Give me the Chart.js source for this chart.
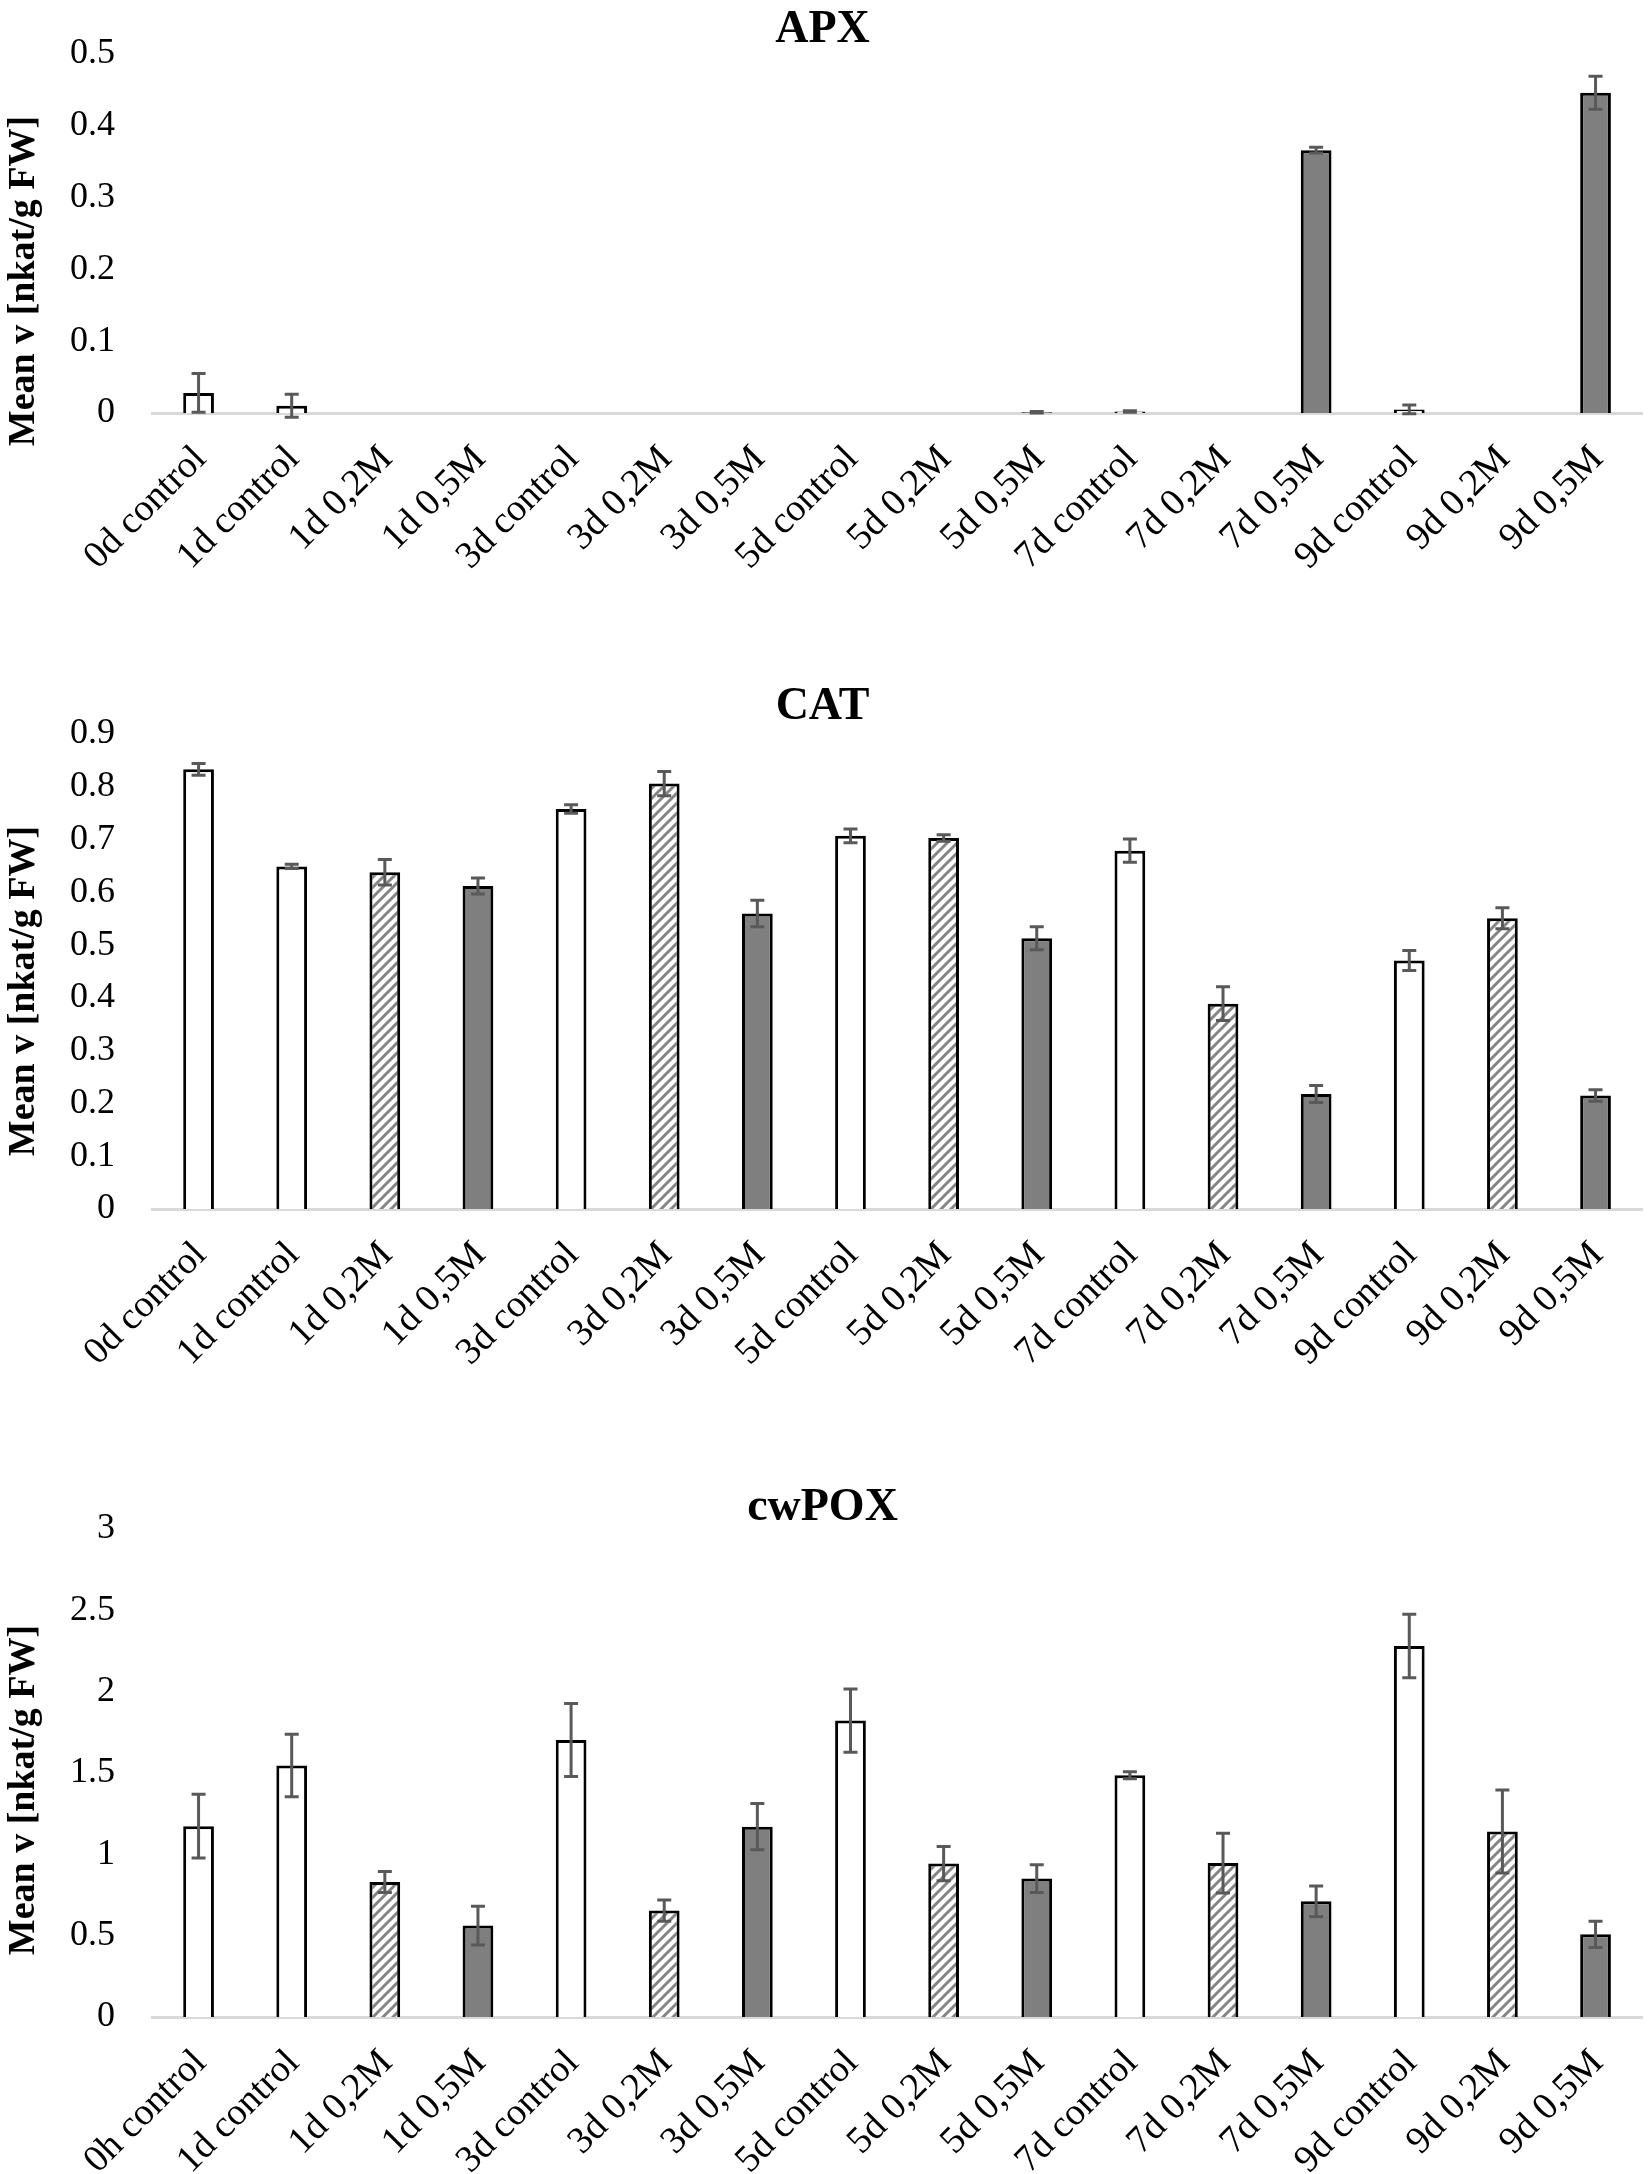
<!DOCTYPE html>
<html>
<head>
<meta charset="utf-8">
<script src="https://cdn.jsdelivr.net/npm/chart.js@4.4.1/dist/chart.umd.min.js"></script>
<style>
    body { margin: 0; background: #ffffff; width: 1652px; height: 2174px; position: relative; overflow: hidden; }
    .box { position: absolute; left: 0; width: 1652px; }
    canvas { display: block; }
</style>
</head>
<body>
<div class="box" style="top:0px"><canvas id="apxChart" width="1652" height="640"></canvas></div>
<div class="box" style="top:680px"><canvas id="catChart" width="1652" height="760"></canvas></div>
<div class="box" style="top:1480px"><canvas id="poxChart" width="1652" height="694"></canvas></div>
<script>
const labels = ["0d control", "1d control", "1d 0,2M", "1d 0,5M", "3d control", "3d 0,2M", "3d 0,5M",
    "5d control", "5d 0,2M", "5d 0,5M", "7d control", "7d 0,2M", "7d 0,5M", "9d control", "9d 0,2M", "9d 0,5M"];
const poxLabels = ["0h control", "1d control", "1d 0,2M", "1d 0,5M", "3d control", "3d 0,2M", "3d 0,5M",
    "5d control", "5d 0,2M", "5d 0,5M", "7d control", "7d 0,2M", "7d 0,5M", "9d control", "9d 0,2M", "9d 0,5M"];
const treatment = ["control", "control", "0,2M", "0,5M", "control", "0,2M", "0,5M",
    "control", "0,2M", "0,5M", "control", "0,2M", "0,5M", "control", "0,2M", "0,5M"];

const apxMean = [0.028, 0.010, 0, 0, 0, 0, 0, 0, 0, 0.001, 0.002, 0, 0.366, 0.005, 0, 0.446];
const apxSd   = [0.027, 0.016, 0, 0, 0, 0, 0, 0, 0, 0.001, 0.001, 0, 0.004, 0.006, 0, 0.023];

const catMean = [0.833, 0.649, 0.638, 0.612, 0.758, 0.806, 0.560, 0.707, 0.703, 0.513, 0.679, 0.389, 0.218, 0.471, 0.551, 0.215];
const catSd   = [0.011, 0.004, 0.024, 0.015, 0.008, 0.023, 0.025, 0.013, 0.006, 0.022, 0.022, 0.032, 0.016, 0.019, 0.020, 0.011];

const poxMean = [1.173, 1.546, 0.830, 0.562, 1.703, 0.654, 1.170, 1.822, 0.943, 0.851, 1.486, 0.946, 0.711, 2.281, 1.141, 0.508];
const poxSd   = [0.196, 0.192, 0.065, 0.119, 0.224, 0.065, 0.142, 0.195, 0.105, 0.085, 0.022, 0.184, 0.095, 0.195, 0.255, 0.081];

const yTitle = "Mean v [nkat/g FW]";
const serif = "'Liberation Serif', 'Times New Roman', serif";

function makeHatch() {
    const c = document.createElement("canvas");
    c.width = 10;
    c.height = 10;
    const g = c.getContext("2d");
    g.fillStyle = "#ffffff";
    g.fillRect(0, 0, 10, 10);
    g.strokeStyle = "#858585";
    g.lineWidth = 3;
    g.beginPath();
    g.moveTo(-2, 12); g.lineTo(12, -2);
    g.moveTo(-2, 2); g.lineTo(2, -2);
    g.moveTo(8, 12); g.lineTo(12, 8);
    g.stroke();
    return g.createPattern(c, "repeat");
}

function fillFor(t, hatch) {
    if (t === "control") return "#ffffff";
    if (t === "0,2M") return hatch;
    return "#7f7f7f";
}

// error bars from dataset.sd, drawn through the y scale
const errorBars = {
    id: "errorBars",
    afterDatasetsDraw(chart) {
        const ds = chart.data.datasets[0];
        const meta = chart.getDatasetMeta(0);
        const y = chart.scales.y;
        const ctx = chart.ctx;
        ctx.save();
        ctx.strokeStyle = "#595959";
        ctx.lineWidth = 3;
        meta.data.forEach((bar, i) => {
            const sd = ds.sd[i];
            if (!sd) return;
            const v = ds.data[i];
            const top = y.getPixelForValue(v + sd);
            const bot = y.getPixelForValue(v - sd);
            ctx.beginPath();
            ctx.moveTo(bar.x, top); ctx.lineTo(bar.x, bot);
            ctx.moveTo(bar.x - 7, top); ctx.lineTo(bar.x + 7, top);
            ctx.moveTo(bar.x - 7, bot); ctx.lineTo(bar.x + 7, bot);
            ctx.stroke();
        });
        ctx.restore();
    },
};

// rotated y axis title, centred where the original has it
const sideTitle = {
    id: "sideTitle",
    afterDraw(chart, args, opts) {
        const ctx = chart.ctx;
        ctx.save();
        ctx.translate(opts.x, opts.y);
        ctx.rotate(-Math.PI / 2);
        ctx.font = "bold 38px " + serif;
        ctx.fillStyle = "#000000";
        ctx.textAlign = "center";
        ctx.textBaseline = "middle";
        ctx.fillText(opts.text, 0, 0);
        ctx.restore();
    },
};

function buildChart(canvasId, title, cats, mean, sd, max, step, cfg) {
    const canvas = document.getElementById(canvasId);
    const hatch = makeHatch();
    return new Chart(canvas, {
        type: "bar",
        data: {
            labels: cats,
            datasets: [
                {
                    data: mean,
                    sd: sd,
                    backgroundColor: treatment.map((t) => fillFor(t, hatch)),
                    borderColor: "#000000",
                    borderWidth: 3,
                    barPercentage: 0.33,
                    categoryPercentage: 1,
                },
            ],
        },
        options: {
            responsive: false,
            animation: false,
            devicePixelRatio: 1,
            layout: { padding: { left: 0, right: 7, top: 0, bottom: 0 } },
            plugins: {
                legend: { display: false },
                tooltip: { enabled: false },
                title: {
                    display: true,
                    text: title,
                    color: "#000000",
                    font: { family: serif, size: 46, weight: "bold", lineHeight: 0.9 },
                    padding: { top: cfg.titleTop, bottom: cfg.titleBottom },
                },
                sideTitle: { text: yTitle, x: 24, y: cfg.yTitleY },
            },
            scales: {
                x: {
                    grid: { display: false, drawTicks: false },
                    border: { display: true, color: "#d9d9d9", width: 3 },
                    ticks: {
                        color: "#000000",
                        font: { family: serif, size: 38 },
                        minRotation: 45,
                        maxRotation: 45,
                        autoSkip: false,
                        padding: 24,
                        labelOffset: 2,
                    },
                    afterFit(scale) {
                        scale.height = cfg.xHeight;
                    },
                },
                y: {
                    min: 0,
                    max: max,
                    // tick marks are hidden with the grid; their length only spaces the labels
                    grid: { display: false, drawTicks: true, tickLength: 27 },
                    border: { display: false },
                    ticks: {
                        stepSize: step,
                        color: "#000000",
                        font: { family: serif, size: 36 },
                        padding: 10,
                        callback: (v) => String(Number(v.toFixed(2))),
                    },
                    afterFit(scale) {
                        scale.width = 152;
                    },
                },
            },
        },
        plugins: [errorBars, sideTitle],
    });
}

buildChart("apxChart", "APX", labels, apxMean, apxSd, 0.5, 0.1,
    { titleTop: 9.3, titleBottom: 3.3, xHeight: 227, yTitleY: 281 });
buildChart("catChart", "CAT", labels, catMean, catSd, 0.9, 0.1,
    { titleTop: 6.3, titleBottom: 6.3, xHeight: 231, yTitleY: 311 });
buildChart("poxChart", "cwPOX", poxLabels, poxMean, poxSd, 3, 0.5,
    { titleTop: 7.3, titleBottom: 0.3, xHeight: 157, yTitleY: 310 });
</script>
</body>
</html>
